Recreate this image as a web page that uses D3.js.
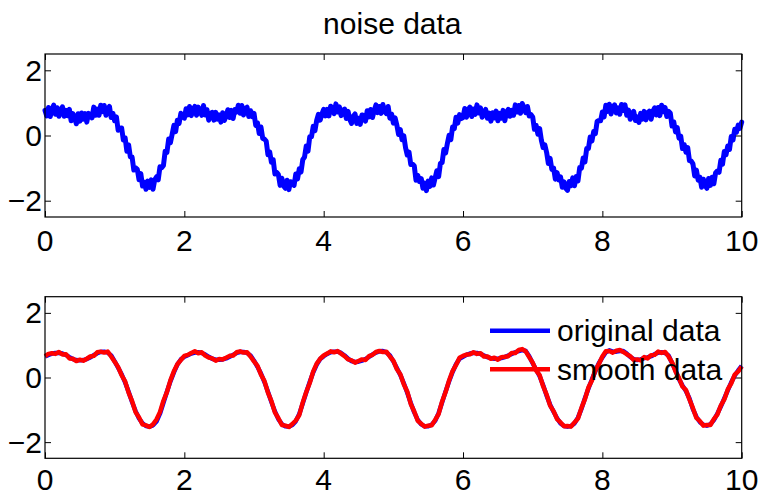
<!DOCTYPE html>
<html>
<head>
<meta charset="utf-8">
<script src="https://cdn.jsdelivr.net/npm/d3@7"></script>
<style>
  html, body { margin: 0; padding: 0; background: #fff; }
  svg { display: block; }
  text { font-family: "Liberation Sans", Arial, Helvetica, sans-serif; fill: #000; }
</style>
</head>
<body>
<div id="chart"></div>
<script>
// ---- data ----
const titleText = "noise data";
const noisyStep = 0.025;   // x spacing of the noisy samples
const smoothStep = 0.05;   // x spacing of the original / smooth samples
const xTicks = [0, 2, 4, 6, 8, 10];
const yTicks = [-2, 0, 2];
const xDomain = [0, 10];
const yDomain = [-2.5, 2.5];
const legendLabels = ["original data", "smooth data"];

const noisyData = [
  0.77,0.60,0.86,0.58,0.79,0.93,0.65,0.85,0.59,0.78,0.88,0.59,0.77,0.61,0.80,0.45,0.67,0.54,0.36,0.67,
  0.44,0.69,0.50,0.67,0.41,0.68,0.63,0.54,0.87,0.62,0.81,0.62,0.93,0.73,0.92,0.62,0.81,0.89,0.55,0.68,
  0.45,0.57,0.16,0.22,0.23,-0.14,-0.07,-0.48,-0.29,-0.66,-0.66,-1.06,-0.99,-1.04,-1.36,-1.17,-1.55,-1.43,-1.65,-1.40,
  -1.59,-1.36,-1.65,-1.36,-1.27,-1.36,-0.96,-0.99,-0.92,-0.48,-0.52,-0.11,-0.22,0.04,0.31,0.12,0.47,0.37,0.68,0.58,
  0.53,0.82,0.63,0.89,0.61,0.80,0.89,0.62,0.87,0.74,0.62,0.92,0.63,0.79,0.47,0.67,0.71,0.47,0.71,0.50,
  0.63,0.41,0.70,0.46,0.61,0.79,0.55,0.77,0.52,0.80,0.72,0.93,0.68,0.92,0.63,0.83,0.87,0.58,0.76,0.58,
  0.68,0.31,0.39,0.06,0.26,-0.09,-0.11,-0.17,-0.59,-0.50,-0.82,-0.74,-1.18,-1.13,-1.20,-1.53,-1.31,-1.55,-1.62,-1.37,
  -1.66,-1.42,-1.45,-1.53,-1.18,-1.33,-1.02,-1.12,-0.74,-0.66,-0.32,-0.48,-0.04,-0.04,0.28,0.15,0.47,0.65,0.47,0.66,
  0.80,0.60,0.80,0.60,0.90,0.82,0.67,0.97,0.72,0.88,0.61,0.77,0.81,0.52,0.74,0.49,0.37,0.59,0.66,0.37,
  0.53,0.34,0.63,0.61,0.44,0.76,0.57,0.80,0.55,0.76,0.94,0.70,0.89,0.68,0.95,0.75,0.67,0.89,0.53,0.66,
  0.38,0.54,0.32,0.03,0.18,-0.13,-0.01,-0.37,-0.60,-0.51,-0.89,-0.88,-0.93,-1.37,-1.22,-1.41,-1.32,-1.62,-1.46,-1.69,
  -1.40,-1.56,-1.30,-1.52,-1.30,-1.08,-1.26,-0.86,-0.83,-0.43,-0.54,-0.25,0.01,-0.13,0.26,0.21,0.56,0.38,0.64,0.52,
  0.55,0.83,0.56,0.80,0.87,0.58,0.81,0.65,0.94,0.69,0.85,0.56,0.71,0.80,0.53,0.69,0.44,0.70,0.54,0.75,
  0.45,0.68,0.53,0.77,0.45,0.72,0.80,0.59,0.77,0.62,0.94,0.72,0.92,0.68,0.98,0.86,0.70,0.89,0.60,0.64,
  0.57,0.19,0.31,0.04,0.21,-0.15,-0.37,-0.29,-0.52,-0.86,-0.70,-1.04,-1.00,-1.34,-1.14,-1.36,-1.27,-1.59,-1.42,-1.62,
  -1.68,-1.41,-1.54,-1.30,-1.54,-1.26,-1.39,-0.98,-1.00,-0.69,-0.81,-0.40,-0.40,-0.05,-0.17,0.12,0.06,0.43,0.46,0.45,
  0.72,0.57,0.93,0.74,0.96,0.66,0.88,0.94,0.69,0.85,0.65,0.95,0.77,0.94,0.62,0.78,0.50,0.67,0.74,0.46,
  0.57,0.40,0.68,0.50,0.74,0.48,0.69,0.75,0.50,0.74,0.85,0.63,0.86,0.61,0.93,0.73,0.86,0.58,0.74,0.69,
  0.29,0.42,0.11,0.24,-0.08,-0.02,-0.40,-0.28,-0.51,-0.37,-0.77,-0.78,-0.87,-1.24,-1.06,-1.37,-1.28,-1.59,-1.34,-1.53,
  -1.62,-1.32,-1.53,-1.28,-1.48,-1.15,-1.09,-1.13,-0.76,-0.88,-0.49,-0.59,-0.32,-0.43,-0.03,-0.14,0.19,0.10,0.32,0.22,
  0.41
];

const originalData = [
  0.65,0.70,0.74,0.76,0.76,0.74,0.70,0.63,0.57,0.54,0.53,0.54,0.57,0.62,0.69,0.75,0.79,0.80,0.77,0.68,
  0.50,0.30,0.10,-0.15,-0.44,-0.76,-1.04,-1.27,-1.42,-1.50,-1.52,-1.48,-1.36,-1.12,-0.78,-0.44,-0.12,0.16,0.40,0.56,
  0.64,0.69,0.74,0.77,0.78,0.76,0.71,0.64,0.58,0.55,0.55,0.56,0.59,0.64,0.70,0.76,0.79,0.79,0.76,0.68,
  0.52,0.33,0.12,-0.14,-0.44,-0.76,-1.05,-1.29,-1.44,-1.51,-1.52,-1.47,-1.35,-1.13,-0.80,-0.46,-0.14,0.16,0.40,0.57,
  0.66,0.73,0.78,0.80,0.80,0.76,0.68,0.58,0.51,0.48,0.49,0.52,0.57,0.64,0.71,0.77,0.81,0.82,0.78,0.68,
  0.50,0.29,0.08,-0.18,-0.47,-0.79,-1.08,-1.31,-1.45,-1.51,-1.51,-1.46,-1.34,-1.10,-0.77,-0.43,-0.12,0.17,0.41,0.58,
  0.64,0.70,0.74,0.76,0.76,0.73,0.68,0.63,0.60,0.58,0.58,0.60,0.63,0.68,0.73,0.78,0.82,0.85,0.82,0.66,
  0.44,0.24,0.04,-0.24,-0.56,-0.84,-1.06,-1.26,-1.42,-1.50,-1.52,-1.50,-1.42,-1.24,-0.97,-0.64,-0.34,-0.06,0.20,0.44,
  0.62,0.78,0.84,0.80,0.80,0.82,0.82,0.74,0.64,0.57,0.54,0.56,0.60,0.62,0.66,0.72,0.77,0.78,0.76,0.68,
  0.45,0.22,-0.05,-0.25,-0.42,-0.65,-0.98,-1.22,-1.38,-1.46,-1.49,-1.45,-1.32,-1.12,-0.90,-0.65,-0.40,-0.15,0.06,0.22,
  0.36
];

const smoothData = [
  0.66,0.73,0.75,0.73,0.79,0.71,0.72,0.59,0.58,0.51,0.55,0.52,0.58,0.65,0.67,0.78,0.80,0.77,0.80,0.65,
  0.49,0.32,0.07,-0.12,-0.47,-0.73,-1.07,-1.24,-1.45,-1.48,-1.53,-1.45,-1.30,-1.07,-0.72,-0.45,-0.09,0.19,0.41,0.54,
  0.67,0.70,0.76,0.81,0.75,0.78,0.68,0.62,0.59,0.52,0.57,0.56,0.61,0.67,0.68,0.78,0.81,0.77,0.78,0.65,
  0.50,0.36,0.09,-0.11,-0.47,-0.73,-1.08,-1.26,-1.47,-1.49,-1.53,-1.44,-1.33,-1.16,-0.77,-0.45,-0.17,0.19,0.43,0.58,
  0.68,0.74,0.81,0.78,0.82,0.74,0.66,0.56,0.53,0.46,0.51,0.56,0.54,0.66,0.70,0.79,0.82,0.79,0.80,0.65,
  0.52,0.26,0.10,-0.21,-0.44,-0.82,-1.05,-1.34,-1.43,-1.52,-1.49,-1.48,-1.31,-1.13,-0.74,-0.45,-0.09,0.20,0.39,0.61,
  0.67,0.71,0.72,0.78,0.73,0.75,0.65,0.65,0.58,0.61,0.55,0.63,0.64,0.66,0.76,0.76,0.85,0.88,0.81,0.63,
  0.46,0.21,0.07,-0.27,-0.53,-0.87,-1.04,-1.29,-1.39,-1.51,-1.50,-1.52,-1.39,-1.27,-0.94,-0.67,-0.31,-0.09,0.23,0.42,
  0.65,0.81,0.82,0.77,0.83,0.85,0.79,0.72,0.66,0.54,0.56,0.53,0.63,0.59,0.69,0.70,0.80,0.76,0.79,0.65,
  0.47,0.19,-0.02,-0.28,-0.39,-0.68,-0.95,-1.25,-1.35,-1.49,-1.47,-1.47,-1.29,-1.15,-0.87,-0.68,-0.37,-0.18,0.09,0.19,
  0.34
];

// ---- layout ----
const W = 759, H = 496;
const left = 45, right = 741.7;
const panels = [
  { top: 54, bottom: 217, labelGap: 34 },
  { top: 296.7, bottom: 458.3, labelGap: 31.5 }
];
const fontSize = 30;
const tickLen = 6;

const svg = d3.select("#chart").append("svg")
  .attr("width", W).attr("height", H);

const x = d3.scaleLinear().domain(xDomain).range([left, right]);

function drawAxes(g, y, labelGap) {
  const top = y.range()[1], bottom = y.range()[0];
  g.append("g").attr("transform", `translate(0,${bottom})`)
    .call(d3.axisBottom(x).tickValues(xTicks).tickSize(-tickLen).tickFormat(""));
  g.append("g").attr("transform", `translate(0,${top})`)
    .call(d3.axisTop(x).tickValues(xTicks).tickSize(-tickLen).tickFormat(""));
  g.append("g").attr("transform", `translate(${left},0)`)
    .call(d3.axisLeft(y).tickValues(yTicks).tickSize(-tickLen).tickFormat(""));
  g.append("g").attr("transform", `translate(${right},0)`)
    .call(d3.axisRight(y).tickValues(yTicks).tickSize(-tickLen).tickFormat(""));
  g.selectAll(".domain").remove();
  g.selectAll(".tick line").attr("stroke", "#000").attr("stroke-width", 1);
  g.append("rect")
    .attr("x", left).attr("y", top)
    .attr("width", right - left).attr("height", bottom - top)
    .attr("fill", "none").attr("stroke", "#000").attr("stroke-width", 1.2);
  g.selectAll(".xl").data(xTicks).enter().append("text")
    .attr("x", d => x(d)).attr("y", bottom + labelGap)
    .attr("text-anchor", "middle").style("font-size", fontSize + "px")
    .text(d => d3.format("d")(d));
  g.selectAll(".yl").data(yTicks).enter().append("text")
    .attr("x", left - 3).attr("y", d => y(d)).attr("dy", "0.35em")
    .attr("text-anchor", "end").style("font-size", fontSize + "px")
    .text(d => (d < 0 ? "\u2212" + Math.abs(d) : String(d)));
}

function pts(arr, step) { return arr.map((v, i) => [i * step, v]); }

// ---- top panel ----
const y1 = d3.scaleLinear().domain(yDomain).range([panels[0].bottom, panels[0].top]);
const g1 = svg.append("g");
const line1 = d3.line().x(d => x(d[0])).y(d => y1(d[1]));
g1.append("path").datum(pts(noisyData, noisyStep))
  .attr("d", line1).attr("fill", "none").attr("stroke", "#0000ff")
  .attr("stroke-width", 5).attr("stroke-linejoin", "round").attr("stroke-linecap", "round");
drawAxes(g1, y1, panels[0].labelGap);
svg.append("text").attr("x", (left + right) / 2 - 1).attr("y", 34)
  .attr("text-anchor", "middle").style("font-size", fontSize + "px").text(titleText);

// ---- bottom panel ----
const y2 = d3.scaleLinear().domain(yDomain).range([panels[1].bottom, panels[1].top]);
const g2 = svg.append("g");
const line2 = d3.line().x(d => x(d[0])).y(d => y2(d[1]));
g2.append("path").datum(pts(originalData, smoothStep))
  .attr("d", line2).attr("fill", "none").attr("stroke", "#0000ff")
  .attr("stroke-width", 4.5).attr("stroke-linejoin", "round");
g2.append("path").datum(pts(smoothData, smoothStep))
  .attr("d", line2).attr("fill", "none").attr("stroke", "#ff0000")
  .attr("stroke-width", 4.5).attr("stroke-linejoin", "round");
drawAxes(g2, y2, panels[1].labelGap);

// legend (no box)
const legColors = ["#0000ff", "#ff0000"];
const leg = svg.append("g");
legendLabels.forEach((lab, i) => {
  const cy = 330.7 + i * 38.6;
  leg.append("line").attr("x1", 490).attr("x2", 550).attr("y1", cy).attr("y2", cy)
    .attr("stroke", legColors[i]).attr("stroke-width", 4.5);
  leg.append("text").attr("x", 557).attr("y", cy + 10.5)
    .style("font-size", fontSize + "px").text(lab);
});
</script>
</body>
</html>
